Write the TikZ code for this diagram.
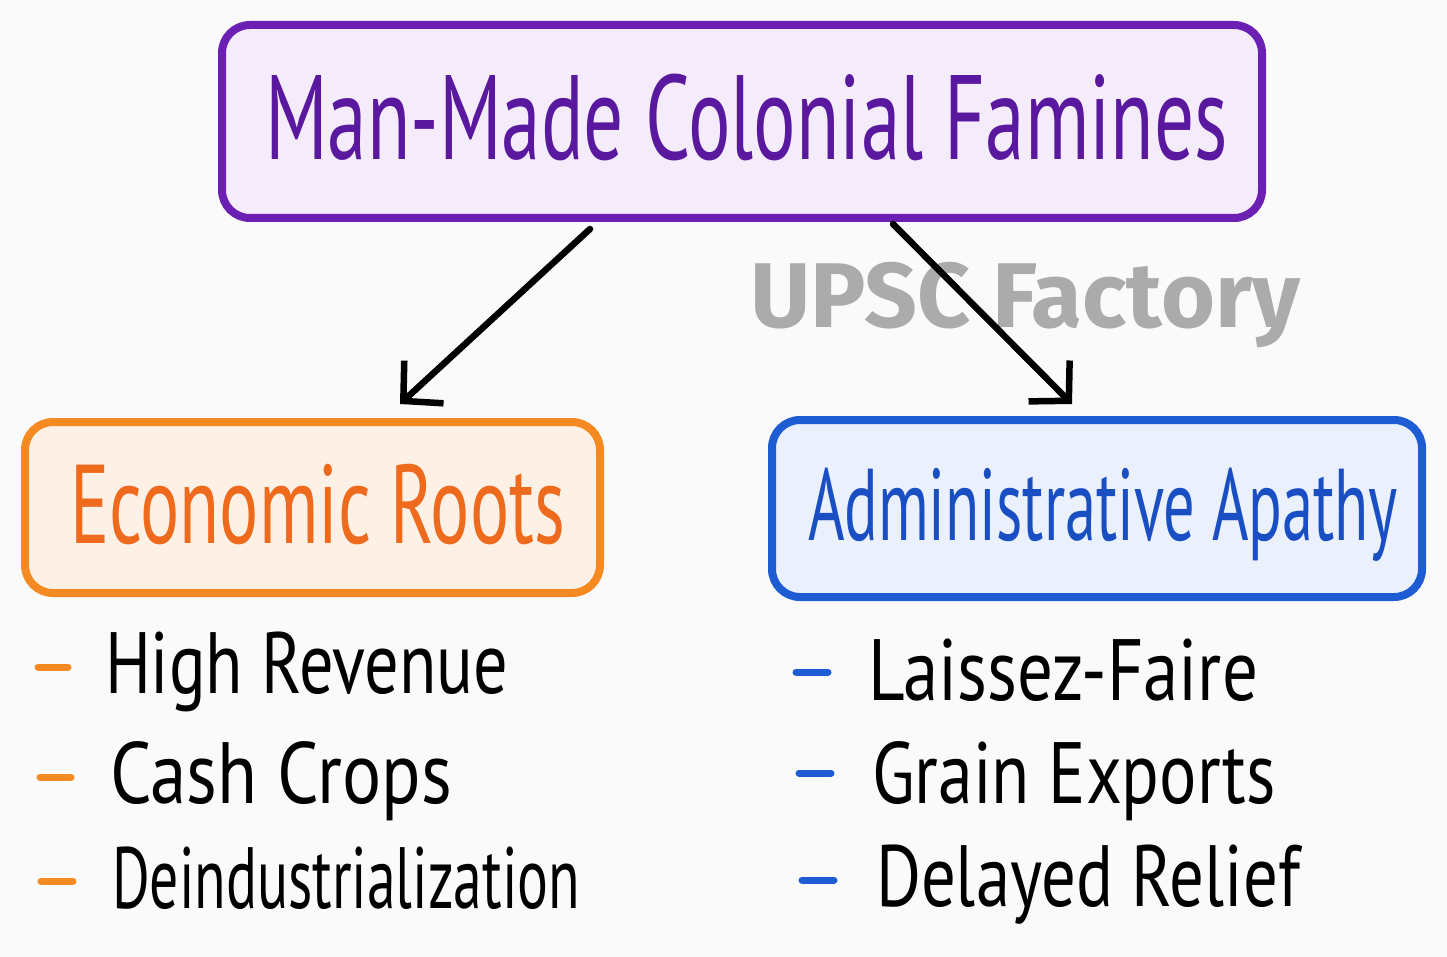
\documentclass[tikz,border=0pt]{standalone}
\usepackage{fontspec}
\usepackage{graphicx}
\setmainfont{PT Sans}
\newfontfamily\wmfont{Fira Sans}[UprightFont=* Bold]
\usetikzlibrary{arrows.meta}
\definecolor{bg}{HTML}{FAFAFA}
\definecolor{purpB}{HTML}{6B1FB3}
\definecolor{purpF}{HTML}{F4ECFB}
\definecolor{purpT}{HTML}{5A189E}
\definecolor{orB}{HTML}{F58A22}
\definecolor{orF}{HTML}{FDF1E6}
\definecolor{orT}{HTML}{EE6A1C}
\definecolor{blB}{HTML}{1D5CD2}
\definecolor{blF}{HTML}{EAF1FC}
\definecolor{blT}{HTML}{1A4FC4}
\definecolor{wm}{HTML}{ABABAB}
\newcommand{\fitto}[3]{\resizebox{#1pt}{\height}{\fontsize{#2}{#2}\selectfont #3}}
\tikzset{
  box/.style={draw, line width=8pt, rounded corners=28pt, inner sep=0pt},
  lbl/.style={anchor=base west, inner sep=0pt, outer sep=0pt},
  arr/.style={line width=6.5pt, line cap=round, -{Straight Barb[length=28pt,width=58pt,line width=6.5pt]}},
  dsh/.style={line width=7pt, line cap=round}
}
\begin{document}
\begin{tikzpicture}[x=1pt,y=-1pt]
\fill[bg] (0,0) rectangle (1447,957);
\useasboundingbox (0,0) rectangle (1447,957);
% boxes
\node[box, draw=purpB, fill=purpF, minimum width=1040pt, minimum height=193pt] (title) at (742,121.5) {};
\node[box, draw=orB, fill=orF, minimum width=575pt, minimum height=171pt] (econ) at (312.5,507.5) {};
\node[box, draw=blB, fill=blF, minimum width=650pt, minimum height=177pt] (admin) at (1097,508.5) {};
% texts in boxes
\node[lbl, text=purpT] (titleT) at (265,160) {\fitto{963}{120}{Man-Made Colonial Famines}};
\node[lbl, text=orT] (econT) at (70,543) {\fitto{495}{112}{Economic Roots}};
\node[lbl, text=blT] (adminT) at (808,540) {\fitto{590}{102}{Administrative Apathy}};
% watermark
\node[lbl, text=wm] (wmT) at (750,327) {\resizebox{550pt}{\height}{\fontsize{92}{92}\wmfont UPSC Factory}};
% arrows
\coordinate (a1s) at (590,229);
\coordinate (a1e) at (400,404);
\coordinate (a2s) at (893,224);
\coordinate (a2e) at (1072,404);
\draw[arr] (a1s) -- (a1e);
\draw[arr] (a2s) -- (a2e);
% left list
\node[lbl] (l1) at (105,693) {\fitto{403}{87}{High Revenue}};
\node[lbl] (l2) at (110,803) {\fitto{342}{87}{Cash Crops}};
\node[lbl] (l3) at (112,908) {\fitto{468}{87}{Deindustrialization}};
\coordinate (ld1a) at (38,667); \coordinate (ld1b) at (68,667);
\coordinate (ld2a) at (40,777); \coordinate (ld2b) at (71,777);
\coordinate (ld3a) at (41,881); \coordinate (ld3b) at (73,881);
\draw[dsh, orB] (ld1a) -- (ld1b);
\draw[dsh, orB] (ld2a) -- (ld2b);
\draw[dsh, orB] (ld3a) -- (ld3b);
% right list
\node[lbl] (r1) at (868,700) {\fitto{390}{87}{Laissez-Faire}};
\node[lbl] (r2) at (872,803) {\fitto{404}{87}{Grain Exports}};
\node[lbl] (r3) at (876,906) {\fitto{424}{87}{Delayed Relief}};
\coordinate (rd1a) at (796,672); \coordinate (rd1b) at (828,672);
\coordinate (rd2a) at (799,773); \coordinate (rd2b) at (831,773);
\coordinate (rd3a) at (802,880); \coordinate (rd3b) at (834,880);
\draw[dsh, blB] (rd1a) -- (rd1b);
\draw[dsh, blB] (rd2a) -- (rd2b);
\draw[dsh, blB] (rd3a) -- (rd3b);
\end{tikzpicture}
\end{document}
